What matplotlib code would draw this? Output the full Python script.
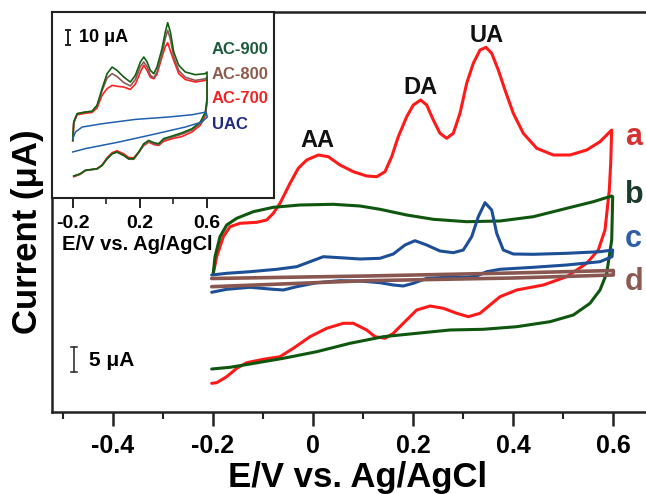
import matplotlib
matplotlib.use("Agg")
import matplotlib.pyplot as plt

plt.rcParams['font.family'] = ['Liberation Sans', 'DejaVu Sans']
plt.rcParams['font.weight'] = 'bold'

# ---------------- main CV data (E in V, current in uA, arbitrary offset) ----------------
# curve a (red): forward sweep then reverse sweep
a_E = [-0.1994, -0.1926, -0.1794, -0.166, -0.146, -0.1126, -0.0926, -0.0794, -0.066, -0.0526,
       -0.046, -0.0294, -0.0126, 0.0106, 0.0306, 0.054, 0.0806, 0.1074, 0.1274, 0.144,
       0.1574, 0.1706, 0.1874, 0.2006, 0.2154, 0.2274, 0.2406, 0.254, 0.2674, 0.2806,
       0.294, 0.3074, 0.3206, 0.334, 0.346, 0.3574, 0.3706, 0.384, 0.4006, 0.4206,
       0.4474, 0.4806, 0.514, 0.5474, 0.574, 0.5974,
       0.5954, 0.5926, 0.584, 0.5706, 0.5474, 0.5074, 0.4606, 0.4074, 0.374, 0.354,
       0.334, 0.3106, 0.2874, 0.2606, 0.234, 0.2074, 0.1806, 0.1606, 0.144, 0.124,
       0.1074, 0.0806, 0.0606, 0.0274, -0.006, -0.0394, -0.066, -0.0994, -0.1326, -0.1526,
       -0.1726, -0.1926, -0.2026]
a_I = [27.74, 31.06, 35.06, 37.06, 37.74, 37.94, 38.4, 39.74, 41.74, 44.4,
       45.74, 48.74, 50.4, 51.4, 51.06, 49.4, 48.06, 47.2, 47.06, 48.06,
       51.06, 55.06, 59.06, 61.4, 62.4, 61.4, 58.4, 55.74, 54.74, 55.74,
       59.74, 65.74, 69.74, 72.4, 72.94, 71.74, 68.4, 64.4, 59.74, 55.74,
       52.74, 51.4, 51.4, 52.4, 54.06, 56.4,
       49.74, 44.4, 36.4, 32.4, 29.74, 27.06, 25.4, 24.4, 23.06, 21.4,
       19.74, 19.06, 19.74, 20.74, 21.2, 20.4, 17.74, 15.74, 14.74, 15.06,
       16.4, 17.74, 17.74, 16.74, 15.06, 12.74, 11.06, 10.54, 9.86, 8.74,
       7.06, 5.86, 5.74]

# curve b (green)
b_E = [-0.1994, -0.196, -0.186, -0.1726, -0.1526, -0.1194, -0.0794, -0.026, 0.0406, 0.094,
       0.134, 0.1874, 0.2406, 0.3074, 0.374, 0.4406, 0.5074, 0.5606, 0.5974,
       0.5994, 0.5974, 0.5874, 0.574, 0.554, 0.5206, 0.474, 0.4074, 0.3406, 0.274,
       0.2074, 0.1406, 0.074, 0.0074, -0.0594, -0.126, -0.166, -0.2026]
b_I = [27.74, 31.06, 35.06, 37.4, 38.74, 40.06, 40.94, 41.4, 41.54, 41.2,
       40.54, 39.4, 38.54, 38.06, 38.2, 39.06, 40.74, 42.06, 43.2,
       43.06, 34.4, 27.74, 24.4, 21.74, 19.4, 18.06, 17.06, 16.54, 16.4,
       15.74, 15.06, 13.74, 12.06, 10.74, 9.6, 8.94, 8.6]

# curve c (blue)
c_E = [-0.2026, -0.1726, -0.126, -0.0726, -0.0326, -0.006, 0.0206, 0.054, 0.094, 0.134,
       0.1606, 0.184, 0.204, 0.2274, 0.254, 0.2806, 0.3006, 0.3174, 0.3306, 0.344,
       0.3574, 0.3674, 0.3806, 0.4006, 0.4406, 0.5074, 0.574, 0.5994,
       0.598, 0.574, 0.5074, 0.4406, 0.374, 0.3474, 0.3274, 0.3074, 0.2674, 0.2274,
       0.2006, 0.1806, 0.1606, 0.134, 0.094, 0.054, 0.0074, -0.0326, -0.0594, -0.0794,
       -0.126, -0.1726, -0.2026]
c_I = [27.4, 27.74, 28.06, 28.54, 29.06, 30.06, 31.06, 30.86, 30.6, 30.74,
       31.6, 33.4, 34.26, 33.4, 32.2, 31.86, 32.4, 35.06, 39.06, 41.86,
       40.4, 35.74, 32.4, 31.6, 31.54, 31.74, 32.06, 32.4,
       31.06, 30.06, 29.4, 28.94, 28.54, 28.06, 27.2, 26.94, 26.94, 26.74,
       25.74, 25.2, 25.4, 25.86, 26.2, 26.26, 25.86, 25.06, 24.4, 24.54,
       24.94, 24.54, 23.94]

# curve d (brown)
d_E = [-0.2026, 0.1074, 0.400, 0.6006, 0.6006, 0.400, 0.1074, -0.2026]
d_I = [26.7, 27.2, 27.8, 28.3, 27.4, 26.8, 26.26, 25.06]

curve_names = ['a', 'b', 'c', 'd']
curve_colors = ['#ff1a1a', '#0f560f', '#1d4f96', '#8a5750']
curve_widths = [2.2, 2.2, 2.2, 2.6]
name_colors = ['#d63232', '#1b3b2c', '#2f5ea8', '#8c5a50']
name_base = [53.4, 41.8, 33.0, 24.4]

peak_names = ['AA', 'DA', 'UA']
peak_E = [0.008, 0.214, 0.348]
peak_I = [53.0, 63.6, 74.0]

# ---------------- inset data ----------------
g_E = [-0.200, -0.194, -0.174, -0.125, -0.085, -0.055, -0.025, 0.005, 0.035, 0.064,
       0.104, 0.144, 0.174, 0.204, 0.224, 0.244, 0.263, 0.284, 0.303, 0.333,
       0.353, 0.367, 0.383, 0.403, 0.433, 0.472, 0.532, 0.592, 0.602,
       0.602, 0.592, 0.562, 0.512, 0.453, 0.393, 0.343, 0.313, 0.284, 0.254,
       0.224, 0.194, 0.164, 0.134, 0.104, 0.064, 0.035, 0.005, -0.025, -0.055,
       -0.085, -0.125, -0.155, -0.194]
ac900_I = [38.4, 50.7, 56.2, 57.3, 57.8, 61.8, 72.9, 82.9, 87.3, 85.1,
           80.7, 77.3, 81.8, 90.7, 94.0, 90.7, 85.1, 82.9, 87.3, 99.5,
           110.7, 116.9, 110.7, 97.3, 88.5, 84.0, 82.2, 82.9, 84.0,
           66.2, 57.3, 50.7, 46.2, 43.5, 41.3, 39.6, 36.2, 36.9, 38.4,
           36.2, 30.7, 26.2, 26.2, 28.5, 30.7, 29.5, 26.2, 21.8, 19.5,
           19.1, 18.5, 16.2, 14.7]
ac800_I = [38.4, 50.7, 56.2, 57.3, 57.8, 61.5, 71.5, 80.0, 82.9, 81.0,
           77.0, 74.7, 79.0, 87.5, 90.7, 87.5, 82.0, 80.0, 84.0, 96.0,
           106.5, 111.8, 106.0, 94.0, 85.0, 80.5, 78.4, 79.5, 80.5,
           65.0, 56.3, 49.9, 45.3, 42.6, 40.5, 38.8, 35.4, 36.1, 37.6,
           35.5, 30.2, 25.8, 25.9, 28.3, 30.6, 29.4, 26.0, 21.6, 19.3,
           18.9, 18.3, 16.0, 14.5]
ac700_I = [38.0, 50.0, 55.5, 56.5, 57.0, 60.0, 68.5, 72.9, 75.1, 74.5,
           74.0, 72.4, 76.0, 84.0, 88.5, 85.0, 80.5, 79.5, 82.5, 94.0,
           101.0, 103.5, 98.0, 91.8, 82.9, 79.0, 77.3, 78.4, 79.5,
           63.5, 54.8, 48.5, 44.0, 41.0, 39.5, 37.8, 35.0, 35.6, 37.2,
           35.0, 30.5, 26.8, 27.0, 29.5, 31.5, 30.2, 26.8, 22.0, 19.6,
           19.0, 18.3, 15.8, 14.2]
uac_E = [-0.200, -0.184, -0.144, -0.025, 0.174, 0.373, 0.512, 0.596,
         0.604, 0.572, 0.472, 0.273, 0.075, -0.125, -0.200]
uac_I = [39.5, 44.0, 47.3, 49.5, 52.4, 54.0, 55.5, 57.3,
         54.0, 50.7, 47.3, 42.2, 37.3, 32.9, 30.7]

inset_names = ['AC-900', 'AC-800', 'AC-700', 'UAC']
inset_line_colors = ['#136013', '#8a5a55', '#ff2020', '#2060b0']
inset_text_colors = ['#1d5a3c', '#8d5c4c', '#ee2424', '#1f2a80']
inset_base = [96.0, 79.3, 63.1, 45.8]

# ---------------- figure ----------------
fig = plt.figure(figsize=(6.46, 4.94), dpi=100)
ax = fig.add_axes([52 / 646, 82 / 494, 611 / 646, 400 / 494])

for E, I, col, lw in zip([a_E, b_E, c_E, d_E], [a_I, b_I, c_I, d_I], curve_colors, curve_widths):
    ax.plot(E, I, color=col, lw=lw, solid_joinstyle='round', solid_capstyle='round', zorder=3)

for n, col, yb in zip(curve_names, name_colors, name_base):
    ax.text(0.624, yb, n, color=col, fontsize=22, fontweight='bold',
            ha='left', va='baseline')

for n, x, y in zip(peak_names, peak_E, peak_I):
    ax.text(x, y, n, color='#111111', fontsize=17, fontweight='bold',
            ha='center', va='baseline')

# 5 uA scale bar
ax.plot([-0.478, -0.478], [8, 13], color='#333333', lw=1.2)
ax.plot([-0.484, -0.472], [8, 8], color='#333333', lw=1.2)
ax.plot([-0.484, -0.472], [13, 13], color='#333333', lw=1.2)
ax.text(-0.448, 10.4, '5 μA', fontsize=15, fontweight='bold', va='center', ha='left')

ax.set_xlim(-0.522, 0.70)
ax.set_ylim(0, 80)
ax.set_yticks([])
ax.set_xticks([-0.4, -0.2, 0, 0.2, 0.4, 0.6])
ax.set_xticklabels(['-0.4', '-0.2', '0', '0.2', '0.4', '0.6'])
ax.set_xticks([-0.5, -0.3, -0.1, 0.1, 0.3, 0.5], minor=True)
ax.tick_params(axis='x', which='major', direction='out', length=10, width=1.8,
               labelsize=18, pad=6, color='#222222')
ax.tick_params(axis='x', which='minor', direction='out', length=5, width=1.5,
               color='#222222')
for s in ax.spines.values():
    s.set_linewidth(1.8)
    s.set_color('#222222')
ax.set_xlabel('E/V vs. Ag/AgCl', fontsize=25, fontweight='bold', labelpad=2)
ax.set_ylabel('Current (μA)', fontsize=25, fontweight='bold')
ax.yaxis.set_label_coords(-0.013, 0.45)

# inset x label sits under the main curves
ax.text(-0.502, 32.4, 'E/V vs. Ag/AgCl', fontsize=14.5, fontweight='bold',
        ha='left', va='baseline', zorder=1)

# ---------------- inset ----------------
ins = fig.add_axes([52 / 646, 296 / 494, 222 / 646, 186 / 494])
for I, col in zip([ac700_I, ac800_I, ac900_I], [inset_line_colors[2], inset_line_colors[1], inset_line_colors[0]]):
    ins.plot(g_E, I, color=col, lw=1.2)
ins.plot(uac_E, uac_I, color=inset_line_colors[3], lw=1.1)

for n, col, yb in zip(inset_names, inset_text_colors, inset_base):
    ins.text(0.632, yb, n, color=col, fontsize=12, fontweight='bold',
             ha='left', va='baseline')

# 10 uA scale bar
ins.plot([-0.228, -0.228], [102, 112], color='#222222', lw=1.4)
ins.plot([-0.24, -0.216], [102, 102], color='#222222', lw=1.4)
ins.plot([-0.24, -0.216], [112, 112], color='#222222', lw=1.4)
ins.text(-0.16, 106.7, '10 μA', fontsize=13, fontweight='bold', va='center', ha='left')

ins.set_xlim(-0.324, 1.002)
ins.set_ylim(0, 124)
ins.set_yticks([])
ins.set_xticks([-0.2, 0.2, 0.6])
ins.set_xticklabels(['-0.2', '0.2', '0.6'])
ins.set_xticks([0.0, 0.4], minor=True)
ins.tick_params(axis='x', which='major', direction='out', length=7, width=1.4,
                labelsize=14, pad=5, color='#222222')
ins.tick_params(axis='x', which='minor', direction='out', length=4, width=1.2,
                color='#222222')
for s in ins.spines.values():
    s.set_linewidth(1.5)
    s.set_color('#222222')

fig.savefig('out.png', dpi=100)
